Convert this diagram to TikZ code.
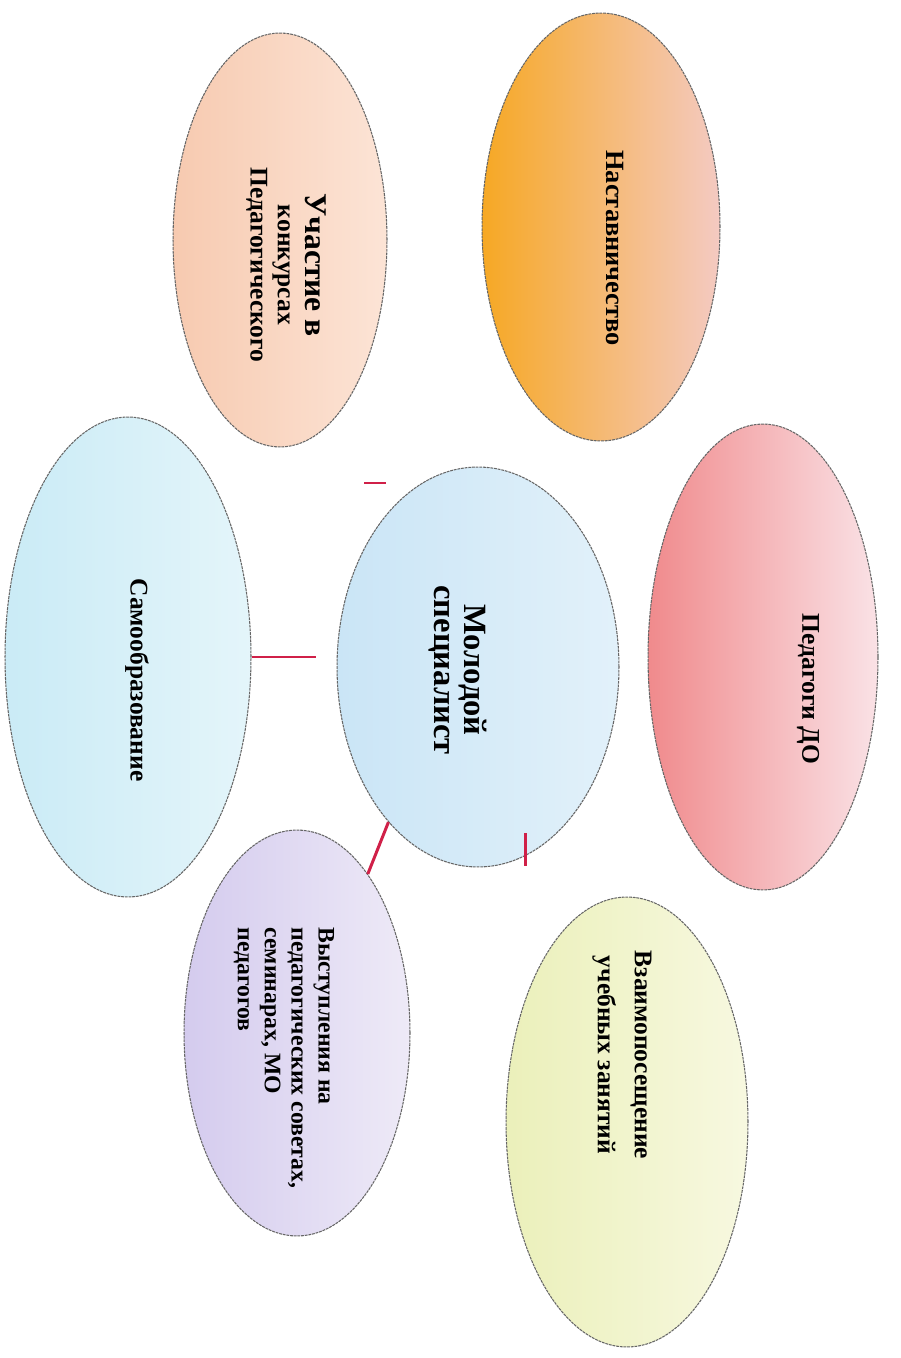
\documentclass[tikz,border=0pt]{standalone}
\usepackage{fontspec}
\setmainfont{Liberation Serif}
\usetikzlibrary{shapes.geometric}

\definecolor{linkred}{RGB}{208,32,72}
\definecolor{nastL}{RGB}{246,168,36}
\definecolor{nastR}{RGB}{244,202,194}
\definecolor{uchL}{RGB}{247,202,176}
\definecolor{uchR}{RGB}{252,228,214}
\definecolor{cenL}{RGB}{202,229,246}
\definecolor{cenR}{RGB}{226,241,250}
\definecolor{pdoL}{RGB}{240,138,140}
\definecolor{pdoR}{RGB}{250,226,230}
\definecolor{vzL}{RGB}{235,240,186}
\definecolor{vzR}{RGB}{247,248,224}
\definecolor{vyL}{RGB}{212,203,238}
\definecolor{vyR}{RGB}{238,234,247}
\definecolor{saL}{RGB}{202,235,246}
\definecolor{saR}{RGB}{228,245,250}

\begin{document}
\begin{tikzpicture}[x=0.02cm,y=-0.02cm,
  bubble/.style={ellipse,inner sep=0pt,draw=black!60,line width=0.6pt,dash pattern=on 1.6pt off 0.5pt},
  lbl/.style={rotate=-90,align=center,inner sep=0pt},
  link/.style={draw=linkred,line width=1.7pt}]

\fill[white] (0,0) rectangle (901,1358);
\useasboundingbox (0,0) rectangle (901,1358);

% ellipses
\node[bubble,minimum width=4.28cm,minimum height=8.28cm,left color=uchL,right color=uchR] (uch) at (280,240) {};
\node[bubble,minimum width=4.76cm,minimum height=8.56cm,left color=nastL,right color=nastR] (nast) at (601,227) {};
\node[bubble,minimum width=5.64cm,minimum height=8.00cm,left color=cenL,right color=cenR] (center) at (478,667) {};
\node[bubble,minimum width=4.60cm,minimum height=9.32cm,left color=pdoL,right color=pdoR] (pdo) at (763,657) {};
\node[bubble,minimum width=4.92cm,minimum height=9.60cm,left color=saL,right color=saR] (samo) at (128,657) {};
\node[bubble,minimum width=4.52cm,minimum height=8.12cm,left color=vyL,right color=vyR] (vyst) at (297,1033) {};
\node[bubble,minimum width=4.84cm,minimum height=9.00cm,left color=vzL,right color=vzR] (vzaim) at (627,1122) {};

% texts
\node[lbl,font=\bfseries\fontsize{15}{18}\selectfont] (nast-t) at (615,248) {Наставничество};
\node[lbl,font=\bfseries\fontsize{14.5}{15.5}\selectfont] (uch-t) at (286,265)
  {{\fontsize{18}{18}\selectfont Участие в}\\конкурсах\\Педагогического};
\node[lbl,font=\bfseries\fontsize{18.5}{17}\selectfont] (center-t) at (458,670) {Молодой\\специалист};
\node[lbl,font=\bfseries\fontsize{14.5}{18}\selectfont] (pdo-t) at (808,689) {Педагоги ДО};
\node[lbl,font=\bfseries\fontsize{14.5}{18}\selectfont] (samo-t) at (137,680) {Самообразование};
\node[lbl,align=left,font=\bfseries\fontsize{13.5}{15.3}\selectfont] (vyst-t) at (284,1058)
  {Выступления на\\педагогических советах,\\семинарах, МО\\педагогов};
\node[lbl,font=\bfseries\fontsize{14.5}{21}\selectfont] (vzaim-t) at (622,1055) {Взаимопосещение\\учебных занятий};

% red links
\coordinate (dashA) at (364,483);
\coordinate (dashB) at (386,483);
\coordinate (samoGap) at (316,657);
\coordinate (tickT) at (525,833);
\coordinate (tickB) at (525,866);
\draw[link] (dashA) -- (dashB);
\draw[link] (samo.east) -- (samoGap);
\draw[link] (vyst.66) -- (center.240);
\draw[link] (tickT) -- (tickB);
\end{tikzpicture}
\end{document}
